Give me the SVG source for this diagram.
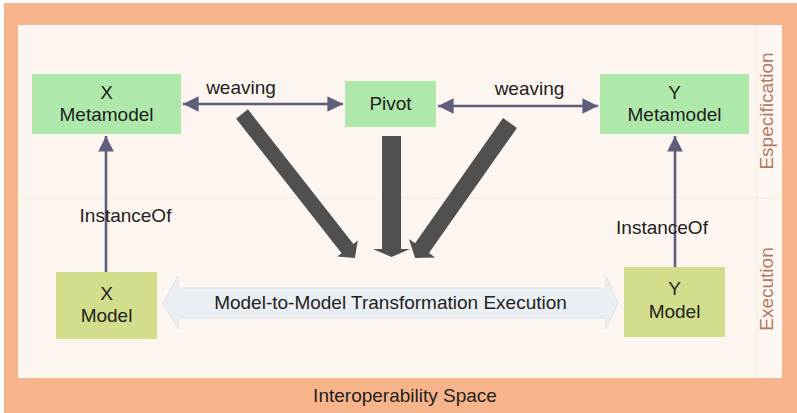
<svg xmlns="http://www.w3.org/2000/svg" width="797" height="413" viewBox="0 0 797 413">
  <defs>
    <style>
      text { font-family: "Liberation Sans", Arial, sans-serif; font-size: 19px; fill: #222; }
      .lbl { text-anchor: middle; }
      .side { fill: #b07a63; text-anchor: middle; }
      .meta { fill: #aee8aa; }
      .model { fill: #d4dd8c; }
      .conn { stroke: #5f5f7d; stroke-width: 2.6; fill: none; }
      .big { fill: #505050; }
    </style>
    <marker id="ah" viewBox="0 0 10 10" refX="10" refY="5" markerWidth="6" markerHeight="6" orient="auto-start-reverse" markerUnits="strokeWidth">
      <path d="M0,0 L10,5 L0,10 Z" fill="#5f5f7d"/>
    </marker>
  </defs>

  <!-- background frame -->
  <rect x="4" y="3" width="793" height="410" fill="#f8b48b"/>
  <rect x="18" y="25" width="764" height="353" fill="#fdf5ef"/>
  <rect x="757" y="25" width="25" height="353" fill="#fdf6f1"/>
  <line x1="757" y1="25" x2="757" y2="378" stroke="#f4e9e1" stroke-width="1"/>
  <line x1="18" y1="198" x2="782" y2="198" stroke="#f3e8e0" stroke-width="1"/>
  <text class="lbl" x="405" y="402">Interoperability Space</text>
  <text class="side" transform="translate(773,111) rotate(-90)">Especification</text>
  <text class="side" transform="translate(773,289) rotate(-90)">Execution</text>

  <!-- connectors -->
  <g id="connectors">
    <line class="conn" x1="183" y1="104" x2="343" y2="104" marker-start="url(#ah)" marker-end="url(#ah)"/>
    <line class="conn" x1="438" y1="106" x2="598" y2="106" marker-start="url(#ah)" marker-end="url(#ah)"/>
    <line class="conn" x1="106" y1="272" x2="106" y2="136" marker-end="url(#ah)"/>
    <line class="conn" x1="675" y1="267" x2="675" y2="136" marker-end="url(#ah)"/>
    <text class="lbl" x="241" y="94">weaving</text>
    <text class="lbl" x="529.5" y="95">weaving</text>
    <text class="lbl" x="125.5" y="222">InstanceOf</text>
    <text class="lbl" x="662" y="234">InstanceOf</text>

    <!-- big dark arrows -->
    <polygon class="big" transform="translate(242,114) rotate(51.9)" points="0,-7.5 171,-7.5 171,-13 183,0 171,13 171,7.5 0,7.5"/>
    <polygon class="big" points="382,136 401,136 401,249 410,249 391.5,257 373,249 382,249"/>
    <polygon class="big" transform="translate(510,123) rotate(125.1)" points="0,-8.5 153,-8.5 153,-16 165,0 153,16 153,8.5 0,8.5"/>

    <!-- transformation execution block arrow -->
    <polygon points="163,303 178,276 178,288 606,288 606,276 618,303 606,329 606,318 178,318 178,329" fill="#eaeff3" stroke="#dce2e7" stroke-width="1"/>
    <text class="lbl" x="390.5" y="309">Model-to-Model Transformation Execution</text>
  </g>

  <!-- nodes -->
  <g id="x-metamodel">
    <rect class="meta" x="32" y="74" width="149" height="60"/>
    <text class="lbl" x="106.5" y="99">X</text>
    <text class="lbl" x="106.5" y="121">Metamodel</text>
  </g>
  <g id="pivot">
    <rect class="meta" x="345" y="81" width="91" height="46"/>
    <text class="lbl" x="390.5" y="110">Pivot</text>
  </g>
  <g id="y-metamodel">
    <rect class="meta" x="600" y="74" width="149" height="60"/>
    <text class="lbl" x="674.5" y="99">Y</text>
    <text class="lbl" x="674.5" y="121">Metamodel</text>
  </g>
  <g id="x-model">
    <rect class="model" x="56" y="272" width="101" height="67"/>
    <text class="lbl" x="106.5" y="300">X</text>
    <text class="lbl" x="106.5" y="322">Model</text>
  </g>
  <g id="y-model">
    <rect class="model" x="624" y="267" width="101" height="70"/>
    <text class="lbl" x="674.5" y="295">Y</text>
    <text class="lbl" x="674.5" y="318">Model</text>
  </g>
</svg>
